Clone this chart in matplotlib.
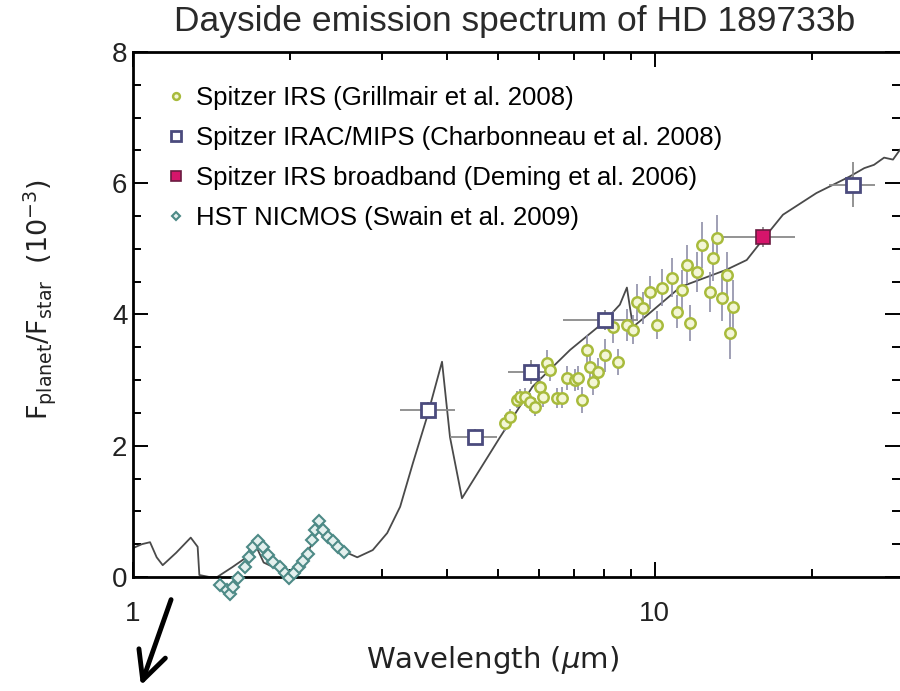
import numpy as np
import matplotlib
matplotlib.use("Agg")
import matplotlib.pyplot as plt
from matplotlib.ticker import FixedLocator, NullFormatter

plt.rcParams['font.family'] = ['Liberation Sans', 'DejaVu Sans']

# model spectrum (wavelength um, Fp/Fs x 1e-3)
model_wl = [1.0, 1.04, 1.078, 1.11, 1.14, 1.21, 1.29, 1.33, 1.34, 1.40, 1.45, 1.55, 1.65, 1.70,
            1.78, 1.94, 2.0, 2.09, 2.25, 2.28, 2.42, 2.57, 2.69, 2.88, 3.07, 3.25, 3.44, 3.66,
            3.91, 4.05, 4.27, 5.05, 5.83, 6.88, 7.95, 8.57, 8.84, 9.08, 9.77, 11.2, 13.7, 15.0,
            16.1, 17.6, 20.4, 23.6, 25.2, 26.3, 27.5, 28.6, 29.5]
model_fl = [0.44, 0.50, 0.53, 0.30, 0.18, 0.37, 0.60, 0.46, 0.03, 0.0, 0.0, 0.15, 0.30, 0.56,
            0.22, 0.08, 0.0, 0.12, 0.67, 0.87, 0.52, 0.37, 0.30, 0.41, 0.67, 1.07, 1.74, 2.44,
            3.28, 2.13, 1.20, 2.13, 2.90, 3.46, 3.87, 4.15, 4.41, 3.81, 4.02, 4.42, 4.68, 4.83,
            5.14, 5.52, 5.85, 6.10, 6.23, 6.28, 6.39, 6.36, 6.51]

# Spitzer IRS (Grillmair et al. 2008)
irs_wl = [5.16, 5.28, 5.44, 5.51, 5.64, 5.76, 5.89, 6.02, 6.10, 6.21, 6.29, 6.49, 6.63, 6.78,
          7.03, 7.12, 7.25, 7.41, 7.51, 7.61, 7.78, 8.02, 8.31, 8.50, 8.84, 9.08, 9.24, 9.49,
          9.78, 10.09, 10.31, 10.78, 11.02, 11.27, 11.52, 11.67, 12.04, 12.30, 12.75, 12.92,
          13.15, 13.44, 13.74, 13.93, 14.11]
irs_fl = [2.35, 2.44, 2.70, 2.74, 2.74, 2.67, 2.59, 2.90, 2.74, 3.26, 3.16, 2.73, 2.73, 3.03,
          3.00, 3.03, 2.70, 3.46, 3.20, 2.97, 3.12, 3.38, 3.81, 3.28, 3.84, 3.77, 4.19, 4.10,
          4.34, 3.84, 4.41, 4.56, 4.04, 4.38, 4.76, 3.87, 4.65, 5.06, 4.34, 4.86, 5.17, 4.25,
          4.60, 3.72, 4.12]
irs_err = [0.12, 0.12, 0.13, 0.13, 0.14, 0.14, 0.14, 0.15, 0.15, 0.2, 0.18, 0.15, 0.16, 0.18,
           0.17, 0.18, 0.2, 0.22, 0.2, 0.2, 0.22, 0.25, 0.25, 0.2, 0.25, 0.22, 0.28, 0.25,
           0.25, 0.22, 0.28, 0.3, 0.25, 0.3, 0.3, 0.28, 0.3, 0.35, 0.3, 0.35, 0.35, 0.35,
           0.35, 0.4, 0.4]

# Spitzer IRAC/MIPS (Charbonneau et al. 2008)
irac_wl = [3.67, 4.52, 5.79, 8.02, 23.95]
irac_fl = [2.55, 2.13, 3.12, 3.92, 5.98]
irac_lo = [3.25, 4.05, 5.23, 6.66, 21.6]
irac_hi = [4.14, 4.98, 6.40, 9.30, 26.4]
irac_err = [0.12, 0.12, 0.18, 0.15, 0.34]

# Spitzer IRS broadband (Deming et al. 2006)
bb_wl = [16.1]
bb_fl = [5.18]
bb_lo = [13.5]
bb_hi = [18.55]
bb_err = [0.15]

# HST NICMOS (Swain et al. 2009)
nic_wl = [1.468, 1.514, 1.534, 1.554, 1.589, 1.639, 1.668, 1.698, 1.736, 1.775, 1.814, 1.854,
          1.912, 1.955, 1.990, 2.034, 2.080, 2.117, 2.164, 2.203, 2.232, 2.272, 2.312, 2.364,
          2.416, 2.470, 2.536]
nic_fl = [-0.12, -0.20, -0.26, -0.15, -0.02, 0.15, 0.30, 0.46, 0.55, 0.46, 0.34, 0.23,
          0.15, 0.06, -0.02, 0.06, 0.15, 0.24, 0.35, 0.56, 0.72, 0.85, 0.72, 0.61,
          0.55, 0.46, 0.38]

fig = plt.figure(figsize=(9, 6.91), dpi=100)
ax = fig.add_axes([0.1478, 0.165, 0.8522, 0.7598])

ax.plot(model_wl, model_fl, color='#4a4a4a', lw=1.3, zorder=2)

irs_c = '#a8bb3c'
ax.errorbar(irs_wl, irs_fl, yerr=irs_err, fmt='none', ecolor='#8f8fa8', elinewidth=1.2, zorder=3)
h_irs, = ax.plot(irs_wl, irs_fl, 'o', ms=7.5, mfc='#f3f6d6', mec=irs_c, mew=1.8, ls='none', zorder=4,
                 label='Spitzer IRS (Grillmair et al. 2008)')

irac_x = np.array(irac_wl)
ax.errorbar(irac_wl, irac_fl, yerr=irac_err,
            xerr=[irac_x - np.array(irac_lo), np.array(irac_hi) - irac_x],
            fmt='none', ecolor='#8a8a8a', elinewidth=1.3, zorder=3)
h_irac, = ax.plot(irac_wl, irac_fl, 's', ms=10, mfc='white', mec='#4b4b7d', mew=2.0, ls='none',
                  zorder=5, label='Spitzer IRAC/MIPS (Charbonneau et al. 2008)')

bb_x = np.array(bb_wl)
ax.errorbar(bb_wl, bb_fl, yerr=bb_err,
            xerr=[bb_x - np.array(bb_lo), np.array(bb_hi) - bb_x],
            fmt='none', ecolor='#8a8a8a', elinewidth=1.3, zorder=3)
h_bb, = ax.plot(bb_wl, bb_fl, 's', ms=10, mfc='#d6156b', mec='#6a1a40', mew=1.2, ls='none',
                zorder=5, label='Spitzer IRS broadband (Deming et al. 2006)')

h_nic, = ax.plot(nic_wl, nic_fl, 'D', ms=6.5, mfc='#e4f0ee', mec='#4d8a86', mew=1.5, ls='none',
                 zorder=4, clip_on=False, label='HST NICMOS (Swain et al. 2009)')

ax.set_xscale('log')
ax.set_xlim(1, 29.5)
ax.set_ylim(0, 8)

ax.xaxis.set_major_locator(FixedLocator([1, 10]))
ax.xaxis.set_minor_locator(FixedLocator([2, 3, 4, 5, 6, 7, 8, 9, 20, 30]))
ax.xaxis.set_minor_formatter(NullFormatter())
ax.set_xticklabels(['1', '10'])
ax.set_yticks([0, 2, 4, 6, 8])
ax.set_yticks(np.arange(0, 8.01, 0.5), minor=True)

ax.tick_params(which='both', direction='in', top=True, right=True, width=1.4)
ax.tick_params(which='major', length=11, labelsize=20, labelcolor='#222222')
ax.tick_params(axis='x', which='major', pad=17)
ax.tick_params(axis='y', which='major', pad=4)
ax.tick_params(which='minor', length=6)
for s in ['left', 'bottom', 'top']:
    ax.spines[s].set_linewidth(2.0)
ax.spines['right'].set_visible(False)

leg = ax.legend(handles=[h_irs, h_irac, h_bb, h_nic], loc='upper left', frameon=False,
                fontsize=18.5, handlelength=0.6, handletextpad=0.45, labelspacing=0.62,
                markerscale=0.65, borderaxespad=0, bbox_to_anchor=(0.033, 0.955))

fig.text(515 / 900, 1 - 22 / 691, 'Dayside emission spectrum of HD 189733b',
         ha='center', va='center', fontsize=25.5, color='#2a2a2a')
fig.text(493 / 900, 1 - 660 / 691, r'Wavelength ($\mu$m)', ha='center', va='center',
         fontsize=21, family='DejaVu Sans', color='#222222')
fig.text(40 / 900, 1 - 300 / 691, r'F$_{\rm planet}$/F$_{\rm star}$  (10$^{-3}$)',
         ha='center', va='center', rotation=90, fontsize=19.5, family='DejaVu Sans',
         color='#222222')

# hand-drawn arrow at the bottom left
ax.annotate('', xy=(140, 3), xycoords='figure pixels', xytext=(172, 94),
            textcoords='figure pixels',
            arrowprops=dict(arrowstyle='->,head_length=0.85,head_width=0.42', lw=3.5,
                            color='black', mutation_scale=24))

fig.savefig('out.png', dpi=100)
